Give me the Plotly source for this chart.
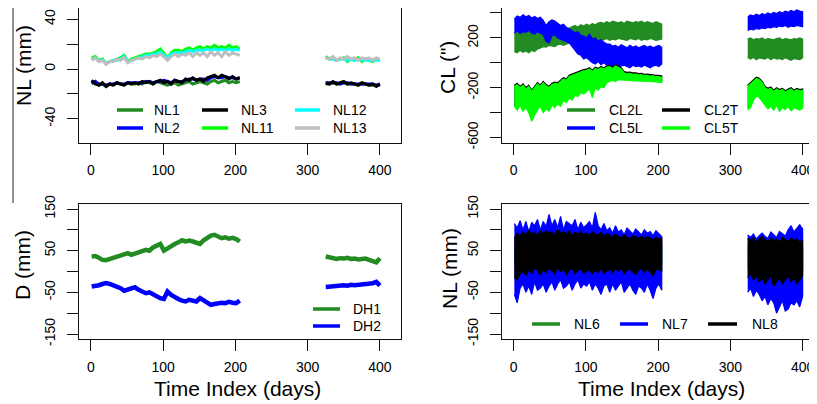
import plotly.graph_objects as go

# ---------------- data ----------------
# sampling grids (days)
DAYS5_SEG1 = list(range(1, 207, 5))     # 42 samples
DAYS5_SEG2 = list(range(325, 401, 5))   # 16 samples
DAYS4_SEG1 = list(range(1, 206, 4))     # 52 samples
DAYS4_SEG2 = list(range(324, 401, 4))   # 20 samples

# Panel 1: NL (mm) -- daily level of each sensor
NL1_a = [-12,-10,-13,-12,-14,-12,-13,-11,-12,-13, -11,-12,-12,-11,-12,-10,-11,-12,-10,-11,
         -12,-13,-12,-11,-13,-12,-11,-10,-12,-11, -10,-11,-12,-10,-9,-11,-10,-9,-11,-10, -11,-10]
NL1_b = [-12,-12,-11,-12,-12,-11,-12,-12,-12,-13,-12,-12,-13,-13,-13,-13]
NL2_a = [-11,-10,-12,-12,-13,-12,-12,-11,-12,-12, -11,-11,-11,-11,-11,-10,-10,-11,-10,-10,
         -9,-10,-11,-9,-10,-10,-9,-8,-8,-9, -8,-8,-9,-7,-6,-7,-7,-6,-7,-7, -8,-7]
NL2_b = [-11,-11,-11,-11,-12,-11,-11,-12,-12,-12,-12,-12,-12,-12,-13,-12]
NL3_a = [-9,-12,-13,-11,-14,-12,-13,-11,-12,-13, -11,-12,-11,-12,-10,-11,-10,-12,-10,-9,
         -11,-10,-12,-9,-10,-11,-8,-9,-7,-9, -8,-10,-7,-6,-5,-7,-5,-6,-8,-6, -8,-7]
NL3_b = [-11,-12,-10,-12,-11,-10,-12,-11,-12,-13,-11,-12,-13,-12,-14,-12]
NL11_a = [9,10,7,8,4,6,7,8,9,11, 6,8,9,10,11,12,12,13,14,16,
          12,9,13,15,15,14,16,17,15,17, 18,16,18,17,19,17,18,17,19,17, 18,16]
NL11_b = [10,8,9,7,8,9,6,8,7,9,6,8,7,6,8,7]
NL12_a = [8,9,7,7,5,6,7,7,8,10, 6,7,8,9,10,11,11,12,12,14,
          11,9,12,13,13,13,14,15,14,15, 15,15,16,15,16,15,16,15,16,15, 16,15]
NL12_b = [9,8,8,7,8,8,7,8,7,8,7,7,7,7,7,7]
NL13_a = [7,9,6,7,4,6,6,8,7,9, 5,7,8,9,8,10,9,11,10,12,
          10,7,10,12,10,12,11,13,10,13, 11,13,10,14,11,13,10,14,11,13, 12,11]
NL13_b = [9,8,10,7,9,8,10,8,9,7,9,8,9,7,9,8]

# Panel 2: CL (") -- upper / lower envelope of the daily band
CL2L_hi_a = [240,255,245,250,240,260,250,245, 265,270,255,275,280,265,270, 260,265,255,270,280,
             290,300,285,305,295,310,300,315,305,320,
             325,315,330,320,335,325,320,330,315,335,325,320,330,325,335,320,330,325,315,330,320,310]
CL2L_lo_a = [90,80,100,85,95,80,100,90, 110,120,130,125,140,135,130, 145,150,140,155,160,
             170,175,165,180,175,170,185,180,175,185,
             190,185,195,180,190,185,195,190,185,180,195,190,185,195,180,190,185,195,190,180,185,190]
CL2L_hi_b = [190,200,185,195,190,200,185,195,190,185,195,200,185,195,190,185,195,190,200,190]
CL2L_lo_b = [40,30,45,25,40,35,30,45,25,40,30,35,25,40,30,20,35,30,25,40]

CL5L_hi_a = [350,375,365,385,370,380,360,372,355,365,340, 300,330,345,335, 320,300,310,285,270,
             260,240,250,220,215,200, 230,190,200,175,185,165,150,
             150,135,140,125,145,130,120,140,125,135,120,130,140,125,135,120,130,140,125]
CL5L_lo_a = [240,255,235,250,245,260,240,230,250,240,225, 170,160,215,225, 200,190,180,170,160,
             130,100,70,60,30,40, 20,0,-10,10,-15,0,-20,
             -20,-30,-15,-35,-25,-20,-30,-40,-20,-30,-25,-35,-20,-30,-40,-25,-20,-30,-10]
CL5L_hi_b = [370,385,375,390,380,395,385,400,390,405,395,410,400,415,405,420,410,425,415,410]
CL5L_lo_b = [260,270,265,275,270,280,275,285,280,290,285,295,290,300,285,295,290,300,295,290]

CL2T_hi_a = [-180,-165,-190,-170,-200,-180, -220,-190, -160,-180,-150,-175,-190,-165,-155,
             -160,-140,-120,-130,-100,-90,-80,-70,-60,-55, -50,-40,-60,-35,-45,-30,-40,
             -25,-20,-35,-15,-30,-40, -70,-77,-74,-81,-80,-86,-85,-92,-90,-95,-94,-101,-100,-105]
CL2T_lo_a = [-330,-360,-320,-370,-340,-380, -440,-400, -360,-330,-380,-350,-370,-320,-340,
             -310,-330,-280,-300,-260,-280,-240,-250,-220,-230, -210,-190,-260,-180,-200,-170,-180,
             -140,-130,-120,-130,-115,-120, -125,-128,-127,-131,-130,-134,-133,-137,-135,-139,-138,-142,-141,-145]
CL2T_hi_b = [-180,-160,-140,-115,-125,-150,-190,-205,-195,-220,-200,-215,-205,-225,-210,-200,-220,-205,-215,-210]
CL2T_lo_b = [-360,-340,-280,-240,-260,-290,-320,-350,-330,-360,-320,-370,-340,-355,-330,-365,-340,-350,-360,-345]

CL5T_hi_a = [-190,-175,-200,-180,-210,-190, -230,-200, -170,-190,-160,-185,-200,-175,-165,
             -170,-150,-130,-140,-110,-100,-90,-80,-70,-65, -60,-50,-70,-45,-55,-40,-50,
             -35,-30,-45,-25,-40,-50, -80,-88,-84,-92,-90,-97,-95,-103,-100,-106,-104,-112,-110,-116]
CL5T_lo_a = [-350,-380,-340,-390,-360,-400, -470,-420, -380,-350,-400,-370,-390,-340,-360,
             -330,-350,-300,-320,-280,-300,-260,-270,-240,-250, -230,-210,-280,-200,-220,-190,-200,
             -160,-150,-140,-150,-135,-140, -138,-142,-140,-145,-143,-148,-146,-150,-148,-152,-151,-155,-154,-158]
CL5T_hi_b = [-190,-170,-150,-125,-135,-160,-200,-215,-205,-230,-210,-225,-215,-235,-220,-210,-230,-215,-225,-220]
CL5T_lo_b = [-380,-360,-300,-260,-280,-310,-340,-370,-350,-380,-340,-390,-360,-375,-350,-385,-360,-370,-380,-365]

# Panel 3: D (mm)
DH1_a = [36,37,33,28,27,30,34,36,38,41, 44,40,43,47,50,52,50,58,62,66,
         50,56,62,66,70,75,72,74,72,70, 66,75,82,86,88,84,80,82,79,81, 78,72]
DH1_b = [36,34,33,30,32,31,33,30,31,29,30,31,28,26,22,32]
DH2_a = [-36,-35,-33,-30,-28,-30,-33,-35,-40,-46, -44,-40,-38,-44,-48,-52,-50,-55,-58,-64,
         -66,-48,-56,-62,-66,-70,-72,-68,-70,-72, -64,-70,-76,-80,-78,-76,-75,-76,-73,-75, -76,-70]
DH2_b = [-37,-36,-35,-36,-34,-33,-34,-32,-33,-32,-31,-32,-30,-28,-25,-34]

# Panel 4: NL (mm) -- upper / lower envelope of the daily band
NL6_hi_a = [65,70,68,72,66,74,70,68,72,66,70,74,68, 72,66,70,74,68,72,70,66,74,68,70,72,
            68,70,66,72,70,68,74,66, 70,66,68,72,64,70,66,68,62,66,64,68,62,66,64,60,66,62,64]
NL6_lo_a = [15,10,20,18,12,22,16,20,14,18,22,16,20, 18,14,22,16,20,18,14,22,16,20,18,14,
            20,16,22,18,14,20,16,22, 18,20,16,22,18,14,20,16,22,18,14,20,16,22,18,14,20,16,18]
NL6_hi_b = [62,58,64,55,60,63,57,64,56,61,62,57,65,55,60,63,58,64,56,60]
NL6_lo_b = [10,5,12,0,8,4,10,2,6,12,0,8,4,10,2,6,12,0,8,5]

NL7_hi_a = [115,105,122, 100,120,95,118,110,125,100,120,108,137,
            110,125,105,132,100,120,115,110,125,100,118,105, 112,120,105,142,110,100,115,98,
            105,92,110,95,100,88,104,96,90,102,94,88,100,92,96,86,98,90,84]
NL7_lo_a = [-55,-75,-40, -30,-50,-35,-55,-25,-45,-40,-30,-50,-35,
            -25,-45,-30,-20,-40,-35,-25,-45,-30,-20,-40,-30, -35,-25,-45,-30,-40,-55,-35,-30,
            -50,-30,-45,-35,-25,-50,-40,-30,-45,-55,-35,-40,-50,-30,-45,-65,-40,-30,-45]
NL7_hi_b = [88,82,90,78,86,92,84,80,95,88,82,96,90,85,100,110,95,105,112,102]
NL7_lo_b = [-50,-40,-60,-45,-55,-70,-60,-80,-65,-75,-100,-85,-70,-95,-90,-75,-80,-70,-85,-60]

NL8_hi_a = [80,92,85,95,88,98,90,94,86,96,90,98,92, 95,88,100,92,96,90,98,86,94,90,96,88,
            92,86,95,90,88,94,85,90, 88,82,90,85,80,88,84,78,86,82,80,85,78,84,80,76,82,78,80]
NL8_lo_a = [-15,-20,-5,0,-10,5,-5,10,0,-8,5,-3,8, 2,-6,10,0,5,-8,3,8,-5,2,6,-4,
            0,5,-6,3,-2,8,-5,2, 5,-3,8,0,10,-5,3,6,0,-8,4,8,-2,5,0,-10,3,6,0]
NL8_hi_b = [80,75,82,70,78,84,76,72,80,74,78,70,82,76,72,80,74,78,70,76]
NL8_lo_b = [-15,-5,-20,-10,-25,-15,-30,-20,-10,-35,-25,-15,-30,-20,-10,-25,-15,-30,-20,-10]

XTICKS = [0, 100, 200, 300, 400]
YTICKS_NL = [-40, -20, 0, 20, 40]
YTEXT_NL = ["-40", "", "0", "", "40"]
YTICKS_CL = [-600, -400, -200, 0, 200, 400]
YTEXT_CL = ["-600", "", "-200", "", "200", ""]
YTICKS_150 = [-150, -100, -50, 0, 50, 100, 150]
YTEXT_150 = ["-150", "", "-50", "", "50", "", "150"]

# ---------------- styling ----------------
W, H = 817, 404
OFF = 8          # page body margin of the html page
FONT = "Liberation Sans, Arial, Helvetica, sans-serif"
GREEN = "#228B22"
BLUE = "#0000FF"
BLACK = "#000000"
LIME = "#00FF00"
CYAN = "#00FFFF"
GRAY = "#BEBEBE"


def px(x):
    return (x - OFF) / W


def py(y):
    return 1 - (y - OFF) / H


fig = go.Figure()

# line panels
line_panels = [
    ("x", "y", [(NL1_a, NL1_b, GREEN), (NL2_a, NL2_b, BLUE), (NL3_a, NL3_b, BLACK),
                (NL11_a, NL11_b, LIME), (NL12_a, NL12_b, CYAN), (NL13_a, NL13_b, GRAY)], 3.0),
    ("x3", "y3", [(DH1_a, DH1_b, GREEN), (DH2_a, DH2_b, BLUE)], 4.5),
]
for xa, ya, series, lw in line_panels:
    for va, vb, col in series:
        xs = DAYS5_SEG1 + [None] + DAYS5_SEG2
        ys = va + [None] + vb
        fig.add_trace(go.Scatter(x=xs, y=ys, mode="lines", xaxis=xa, yaxis=ya,
                                 line=dict(color=col, width=lw), connectgaps=False,
                                 showlegend=False, hoverinfo="skip"))

# band panels (daily range filled between upper and lower envelope)
band_panels = [
    ("x2", "y2", [(CL2L_hi_a, CL2L_lo_a, CL2L_hi_b, CL2L_lo_b, GREEN),
                  (CL5L_hi_a, CL5L_lo_a, CL5L_hi_b, CL5L_lo_b, BLUE),
                  (CL2T_hi_a, CL2T_lo_a, CL2T_hi_b, CL2T_lo_b, BLACK),
                  (CL5T_hi_a, CL5T_lo_a, CL5T_hi_b, CL5T_lo_b, LIME)]),
    ("x4", "y4", [(NL6_hi_a, NL6_lo_a, NL6_hi_b, NL6_lo_b, GREEN),
                  (NL7_hi_a, NL7_lo_a, NL7_hi_b, NL7_lo_b, BLUE),
                  (NL8_hi_a, NL8_lo_a, NL8_hi_b, NL8_lo_b, BLACK)]),
]
for xa, ya, series in band_panels:
    for hia, loa, hib, lob, col in series:
        xs = (DAYS4_SEG1 + DAYS4_SEG1[::-1] + [None] + DAYS4_SEG2 + DAYS4_SEG2[::-1])
        ys = (hia + loa[::-1] + [None] + hib + lob[::-1])
        fig.add_trace(go.Scatter(x=xs, y=ys, mode="lines", xaxis=xa, yaxis=ya,
                                 fill="toself", fillcolor=col,
                                 line=dict(color=col, width=1.2), connectgaps=False,
                                 showlegend=False, hoverinfo="skip"))

# domains (pixel based, reference image coordinates)
LEFT_X = [px(79), px(400.5)]
RIGHT_X = [px(501.7), px(817)]
TOP_Y = [py(142.5), py(8)]
BOT_Y = [py(339), py(204)]
SCALE = (400.5 - 79) / 445.0
XR_LEFT = [-16.5, 428.5]
XR_RIGHT = [-16.5, -16.5 + (817 - 501.7) / SCALE]

common_ax = dict(showgrid=False, zeroline=False, showline=True, linecolor="#111111",
                 linewidth=1, ticks="outside", ticklen=11, tickwidth=1, tickcolor="#111111",
                 tickfont=dict(family=FONT, size=14, color="black"))


def xax(domain, rng, anchor):
    d = dict(common_ax)
    d.update(domain=domain, range=rng, anchor=anchor, mirror=True,
             tickvals=XTICKS, ticktext=[str(v) for v in XTICKS], ticklabelstandoff=4)
    return d


def yax(domain, rng, anchor, vals, texts, mirror):
    d = dict(common_ax)
    d.update(domain=domain, range=rng, anchor=anchor, mirror=mirror,
             tickvals=vals, ticktext=texts, tickangle=-90, ticklabelstandoff=6)
    return d


fig.update_layout(
    width=W, height=H, margin=dict(l=0, r=0, t=0, b=0, pad=0, autoexpand=False),
    paper_bgcolor="white", plot_bgcolor="white", showlegend=False,
    font=dict(family=FONT, color="black"),
    xaxis=xax(LEFT_X, XR_LEFT, "y"),
    yaxis=yax(TOP_Y, [-59, 49], "x", YTICKS_NL, YTEXT_NL, True),
    xaxis2=xax(RIGHT_X, XR_RIGHT, "y2"),
    yaxis2=yax(TOP_Y, [-640, 440], "x2", YTICKS_CL, YTEXT_CL, False),
    xaxis3=xax(LEFT_X, XR_LEFT, "y3"),
    yaxis3=yax(BOT_Y, [-162, 162], "x3", YTICKS_150, YTEXT_150, True),
    xaxis4=xax(RIGHT_X, XR_RIGHT, "y4"),
    yaxis4=yax(BOT_Y, [-162, 162], "x4", YTICKS_150, YTEXT_150, False),
)

shapes = []
annotations = []

# axis titles
for text, x, y in [("NL (mm)", 23, 66), ('CL (")', 447, 67), ("D (mm)", 22, 265), ("NL (mm)", 449, 269)]:
    annotations.append(dict(text=text, x=px(x), y=py(y), xref="paper", yref="paper",
                            showarrow=False, textangle=-90, xanchor="center", yanchor="middle",
                            font=dict(family=FONT, size=21, color="black")))
for x in (237, 661):
    annotations.append(dict(text="Time Index (days)", x=px(x), y=py(388), xref="paper", yref="paper",
                            showarrow=False, xanchor="center", yanchor="middle",
                            font=dict(family=FONT, size=21, color="black")))

# legends: (label, color, line x0, line x1, text x, y)
legend_items = [
    ("NL1", GREEN, 117, 143, 152, 110), ("NL2", BLUE, 117, 143, 152, 128),
    ("NL3", BLACK, 202, 228, 239, 110), ("NL11", LIME, 202, 228, 239, 128),
    ("NL12", CYAN, 295, 320, 331, 110), ("NL13", GRAY, 295, 320, 331, 128),
    ("CL2L", GREEN, 567, 595, 607, 110), ("CL5L", BLUE, 567, 595, 607, 128),
    ("CL2T", BLACK, 662, 690, 702, 110), ("CL5T", LIME, 662, 690, 702, 128),
    ("DH1", GREEN, 313, 340, 351, 309), ("DH2", BLUE, 313, 340, 351, 326),
    ("NL6", GREEN, 532, 560, 572, 324), ("NL7", BLUE, 620, 648, 660, 324),
    ("NL8", BLACK, 708, 737, 750, 324),
]
for label, col, x0, x1, tx, y in legend_items:
    shapes.append(dict(type="line", xref="paper", yref="paper", x0=px(x0), x1=px(x1),
                       y0=py(y), y1=py(y), line=dict(color=col, width=3.5)))
    annotations.append(dict(text=label, x=px(tx), y=py(y), xref="paper", yref="paper",
                            showarrow=False, xanchor="left", yanchor="middle",
                            font=dict(family=FONT, size=14, color="black")))

# stray border line at the far left (crop remnant)
shapes.append(dict(type="line", xref="paper", yref="paper", x0=px(13), x1=px(13),
                   y0=py(8), y1=py(203), line=dict(color="#222222", width=1)))

fig.update_layout(shapes=shapes, annotations=annotations)
fig.write_html("out.html")
